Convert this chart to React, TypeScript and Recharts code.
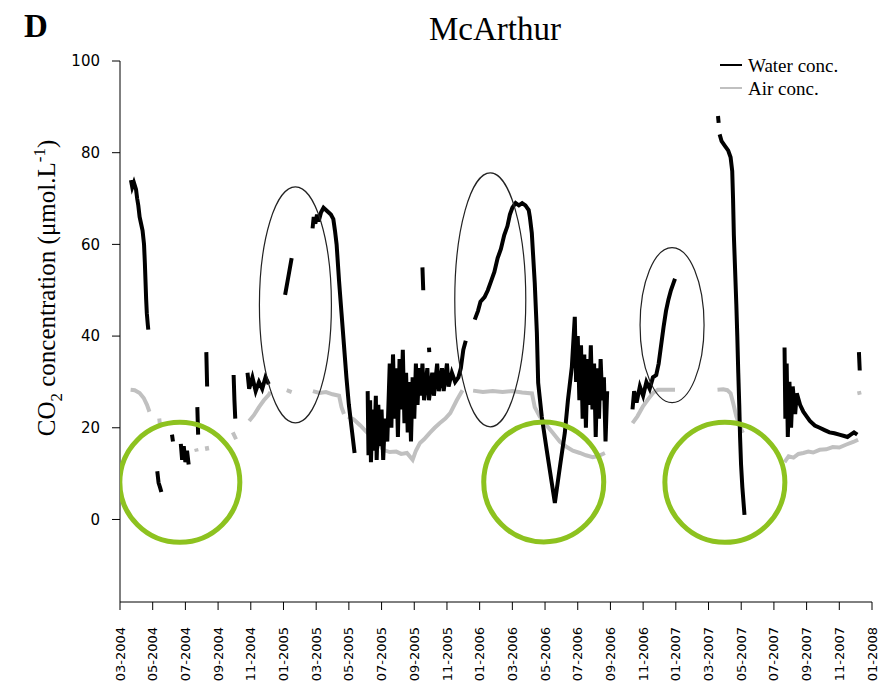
import { ComposedChart, Line, Scatter, XAxis, YAxis, Legend } from "recharts";

type Pt = [number, number | null];

// x = months since 03-2004, y = CO2 (µmol/L); a null value breaks the trace
const WATER_2004: Pt[] = [
  [0.67, 74], [0.75, 72.5], [0.85, 73.5], [0.98, 72], [1.05, 70], [1.12, 68.5], [1.2, 66],
  [1.29, 64.5], [1.38, 63], [1.47, 60], [1.52, 56], [1.56, 52], [1.6, 48], [1.64, 45],
  [1.7, 42.5], [1.73, 41.4], [1.73, null],
  [2.28, 10.5], [2.36, 8], [2.45, 7], [2.53, 6], [2.53, null],
  [3.18, 18.5], [3.24, 17], [3.24, null],
  [3.72, 16.5], [3.8, 13], [3.9, 16], [4.0, 12.5], [4.1, 15], [4.2, 12], [4.2, null],
  [4.73, 24.5], [4.78, 18.5], [4.78, null],
  [5.28, 36.5], [5.33, 29], [5.33, null],
  [6.95, 31.5], [7.0, 26], [7.05, 22], [7.05, null],
  [7.8, 32], [7.9, 28.5], [8.1, 31], [8.3, 28], [8.5, 30], [8.7, 28.5], [8.9, 31], [9.1, 29.5], [9.1, null],
  [10.1, 49], [10.3, 53], [10.5, 57], [10.5, null],
];

const WATER_2005: Pt[] = [
  [11.78, 63.5], [11.85, 66], [11.95, 64.5], [12.05, 66.5], [12.15, 65], [12.3, 67], [12.45, 68],
  [12.6, 67.5], [12.75, 67], [12.9, 66.5], [13.05, 65.5], [13.15, 63], [13.25, 60], [13.4, 52],
  [13.55, 45], [13.7, 38], [13.85, 31], [14.0, 25], [14.2, 19], [14.35, 14.5], [14.35, null],
  [15.15, 28], [15.2, 14], [15.3, 26], [15.35, 12.5], [15.45, 24], [15.55, 15], [15.65, 27],
  [15.7, 13], [15.8, 25], [15.9, 16], [16.0, 24], [16.1, 13], [16.2, 22], [16.35, 17],
  [16.5, 34], [16.6, 20], [16.7, 36], [16.8, 22], [16.9, 33], [17.0, 18], [17.1, 35], [17.2, 24],
  [17.3, 37], [17.4, 21], [17.5, 32], [17.6, 19], [17.7, 30], [17.8, 17], [17.9, 31], [18.0, 22],
  [18.1, 34], [18.2, 25], [18.3, 33], [18.4, 27], [18.5, 34], [18.6, 26], [18.8, 33], [18.9, 26],
  [19.1, 32], [19.2, 27], [19.4, 34], [19.5, 28], [19.7, 33], [19.8, 28], [20.0, 34], [20.1, 29],
  [20.3, 32], [20.5, 30], [20.7, 31], [20.85, 33], [21.0, 37], [21.15, 39], [21.15, null],
  [18.5, 55], [18.55, 50], [18.55, null], [18.9, 37.5], [18.92, 36.5], [18.92, null],
];

const WATER_2006: Pt[] = [
  [21.7, 43.6], [21.9, 45.5], [22.05, 47.5], [22.3, 48.5], [22.5, 50], [22.7, 52], [22.9, 54],
  [23.1, 57], [23.3, 59], [23.5, 62], [23.7, 64], [23.85, 66.5], [24.0, 68], [24.2, 69],
  [24.4, 68.5], [24.6, 69], [24.8, 68.5], [25.0, 67.5], [25.07, 66], [25.19, 62.5], [25.37, 51.6],
  [25.5, 40.7], [25.58, 29.8], [25.8, 22.4], [26.1, 15.2], [26.41, 8], [26.6, 3.6], [26.91, 11.5],
  [27.21, 18.9], [27.4, 26], [27.64, 33.3], [27.82, 44.2],
  [27.9, 30], [28.0, 40], [28.1, 26], [28.2, 38], [28.3, 22], [28.4, 36], [28.5, 20], [28.6, 35],
  [28.7, 25], [28.8, 38], [28.9, 24], [29.0, 34], [29.1, 18], [29.2, 33], [29.3, 22], [29.4, 35],
  [29.5, 26], [29.6, 31], [29.7, 17], [29.8, 28], [29.8, null],
  [31.35, 24], [31.45, 28], [31.6, 25.5], [31.8, 29], [32.0, 27], [32.2, 30], [32.4, 28.5],
  [32.6, 31], [32.8, 31.5], [32.95, 34], [33.1, 38], [33.25, 42], [33.4, 45.5], [33.55, 48],
  [33.7, 50], [33.85, 51.5], [33.95, 52.5], [33.95, null],
];

const WATER_2007: Pt[] = [
  [36.58, 88], [36.62, 86.5], [36.62, null],
  [36.68, 84], [36.8, 82.5], [37.0, 81.5], [37.2, 80.5], [37.35, 79], [37.45, 76], [37.5, 70],
  [37.55, 62], [37.62, 55], [37.7, 47], [37.76, 40], [37.82, 32], [37.88, 25], [37.93, 18],
  [37.99, 12], [38.07, 7], [38.2, 1], [38.2, null],
  [40.65, 37.5], [40.7, 22], [40.78, 34], [40.85, 18], [40.95, 30], [41.05, 20], [41.15, 29],
  [41.3, 23], [41.4, 27.5], [41.6, 25], [41.8, 23.5], [42.0, 22.5], [42.2, 21.5], [42.5, 20.5],
  [42.8, 20], [43.1, 19.5], [43.4, 19], [43.7, 18.8], [44.0, 18.5], [44.3, 18.2], [44.5, 18],
  [44.7, 18.5], [44.9, 19], [45.1, 18.5], [45.1, null],
  [45.2, 36.5], [45.25, 32.5], [45.25, null],
];

const AIR_2004: Pt[] = [
  [0.65, 28.3], [0.9, 28.2], [1.2, 27.6], [1.45, 26.5], [1.65, 25], [1.8, 23.5], [1.8, null],
  [2.4, 22], [2.45, 20.5], [2.45, null],
  [4.65, 15.5], [4.7, 14.8], [4.7, null],
  [5.3, 16], [5.35, 15], [5.35, null],
  [6.9, 19], [7.1, 17.5], [7.1, null],
  [7.9, 21.5], [8.2, 22.8], [8.5, 24.5], [8.8, 26], [9.1, 27.2], [9.2, 27.8], [9.2, null],
  [10.2, 28.2], [10.5, 27.8], [10.5, null],
  [11.8, 28.0], [12.2, 27.6], [12.6, 27.8], [13.0, 27.3], [13.4, 27.0], [13.55, 24.5], [13.7, 23],
];

const AIR_2005: Pt[] = [
  [13.95, 22.4], [14.3, 21.8], [14.7, 20.5], [15.1, 19], [15.45, 18], [15.8, 16.5], [16.1, 15.2],
  [16.5, 14.7], [16.9, 14.8], [17.2, 14.3], [17.55, 14.5], [17.9, 13], [18.1, 15], [18.35, 16.7],
  [18.6, 17.5], [18.95, 18.9], [19.25, 20], [19.55, 21], [19.9, 22], [20.2, 23.2], [20.6, 26],
  [20.95, 28.2],
];

const AIR_2006: Pt[] = [
  [21.6, 28.1], [22.2, 27.8], [22.8, 28], [23.4, 27.8], [24.0, 28], [24.6, 27.7], [25.2, 27.5],
  [25.37, 24.5], [25.68, 22.4], [26.1, 20.5], [26.47, 18.9], [26.9, 17], [27.33, 15.8], [27.7, 15],
  [28.13, 14.5], [28.5, 14], [28.92, 13.6], [29.3, 13.9], [29.66, 14.5], [29.66, null],
  [31.35, 21], [31.65, 22.5], [31.98, 24.6], [32.3, 26.2], [32.6, 27.6], [32.9, 28.3], [33.4, 28.3],
  [33.95, 28.3], [33.95, null],
];

const AIR_2007: Pt[] = [
  [36.55, 28.3], [36.9, 28.4], [37.15, 28.2], [37.35, 27.5], [37.5, 25.5], [37.7, 22.5],
  [37.9, 20.5], [38.1, 18.9], [38.1, null],
  [40.65, 12.5], [40.9, 13.8], [41.2, 13.5], [41.5, 14.3], [41.8, 14.5], [42.1, 14.8], [42.4, 14.6],
  [42.8, 15.2], [43.2, 15.3], [43.6, 15.8], [44.0, 15.7], [44.4, 16.3], [44.85, 16.9], [45.15, 17.4],
  [45.15, null], [45.2, 28], [45.25, 27.2],
];

const MONTH_LABELS = [
  "03-2004", "05-2004", "07-2004", "09-2004", "11-2004",
  "01-2005", "03-2005", "05-2005", "07-2005", "09-2005", "11-2005",
  "01-2006", "03-2006", "05-2006", "07-2006", "09-2006", "11-2006",
  "01-2007", "03-2007", "05-2007", "07-2007", "09-2007", "11-2007",
  "01-2008",
];
const Y_TICKS = [0, 20, 40, 60, 80, 100];

// hand-drawn annotations (centres in data units)
const OVALS = [{ m: 10.73, v: 46.8 }, { m: 22.65, v: 47.9 }, { m: 33.77, v: 42.4 }];
const OVAL_RADII = [[36, 118], [35.5, 127], [32, 77.5]];
const CIRCLES = [{ m: 3.66, v: 8.1 }, { m: 25.92, v: 8.2 }, { m: 37.0, v: 8.1 }];

const rows = (pts: Pt[]) => pts.map(([m, v]) => ({ m, v }));
const water = rows([...WATER_2004, ...WATER_2005, ...WATER_2006, ...WATER_2007]);
const air = rows([...AIR_2004, [13.7, null], ...AIR_2005, [20.95, null], ...AIR_2006, ...AIR_2007]);
const xTicks = MONTH_LABELS.map((_, i) => i * 2);

const serif = "'Liberation Serif', 'Times New Roman', serif";
const sans = "'DejaVu Sans', sans-serif";

function MonthTick({ x, y, payload }: any) {
  const label = MONTH_LABELS[Math.round(payload.value / 2)];
  return (
    <text
      x={x}
      y={y + 15}
      transform={`rotate(-90 ${x} ${y + 15})`}
      textAnchor="end"
      dy="0.35em"
      fontFamily={sans}
      fontSize={13}
      fill="#000"
    >
      {label}
    </text>
  );
}

function LegendBox() {
  return (
    <svg width={165} height={50} style={{ overflow: "visible" }}>
      <line x1={2} x2={24} y1={13} y2={13} stroke="#000" strokeWidth={2} />
      <text x={30} y={20} fontFamily={serif} fontSize={19} fill="#000">Water conc.</text>
      <line x1={2} x2={24} y1={36} y2={36} stroke="#c0c0c0" strokeWidth={2} />
      <text x={30} y={43} fontFamily={serif} fontSize={19} fill="#000">Air conc.</text>
    </svg>
  );
}

export default function App() {
  return (
    <div style={{ position: "absolute", left: 0, top: 0, width: 893, height: 693, background: "#fff" }}>
      <ComposedChart width={893} height={693} margin={{ top: 61, right: 21, bottom: 1, left: 0 }}>
        <XAxis
          type="number"
          dataKey="m"
          domain={[0, 46]}
          ticks={xTicks}
          interval={0}
          height={90}
          tickSize={8}
          tick={<MonthTick />}
          stroke="#000"
          allowDataOverflow
        />
        <YAxis
          type="number"
          domain={[-18, 100]}
          ticks={Y_TICKS}
          width={120}
          tickSize={8}
          tickMargin={12}
          stroke="#000"
          tick={{ fontFamily: sans, fontSize: 15, fill: "#000" }}
          allowDataOverflow
        />
        <Line
          data={air}
          dataKey="v"
          name="Air conc."
          stroke="#c0c0c0"
          strokeWidth={4}
          dot={false}
          isAnimationActive={false}
        />
        <Line
          data={water}
          dataKey="v"
          name="Water conc."
          stroke="#000"
          strokeWidth={4}
          dot={false}
          isAnimationActive={false}
        />
        {OVALS.map((o, i) => (
          <Scatter
            key={`oval-${i}`}
            data={[o]}
            dataKey="v"
            isAnimationActive={false}
            shape={(p: any) => (
              <ellipse cx={p.cx} cy={p.cy} rx={OVAL_RADII[i][0]} ry={OVAL_RADII[i][1]} fill="none" stroke="#222" strokeWidth={1.2} />
            )}
          />
        ))}
        {CIRCLES.map((c, i) => (
          <Scatter
            key={`circle-${i}`}
            data={[c]}
            dataKey="v"
            isAnimationActive={false}
            shape={(p: any) => (
              <circle cx={p.cx} cy={p.cy} r={60} fill="none" stroke="#8DC21F" strokeWidth={5} />
            )}
          />
        ))}
        <Legend
          layout="vertical"
          align="center"
          verticalAlign="middle"
          wrapperStyle={{ top: 52, left: 718, width: 170 }}
          content={() => <LegendBox />}
        />
        <text x={24} y={37} fontFamily={serif} fontSize={33} fontWeight="bold" fill="#000">D</text>
        <text x={495} y={40} textAnchor="middle" fontFamily={serif} fontSize={33} fill="#000">McArthur</text>
        <text
          x={55}
          y={288}
          transform="rotate(-90 55 288)"
          textAnchor="middle"
          fontFamily={serif}
          fontSize={25}
          fill="#000"
        >
          CO<tspan fontSize={17} dy={7}>2</tspan>
          <tspan dy={-7}> concentration (μmol.L</tspan>
          <tspan fontSize={17} dy={-10}>-1</tspan>
          <tspan dy={10}>)</tspan>
        </text>
      </ComposedChart>
    </div>
  );
}
